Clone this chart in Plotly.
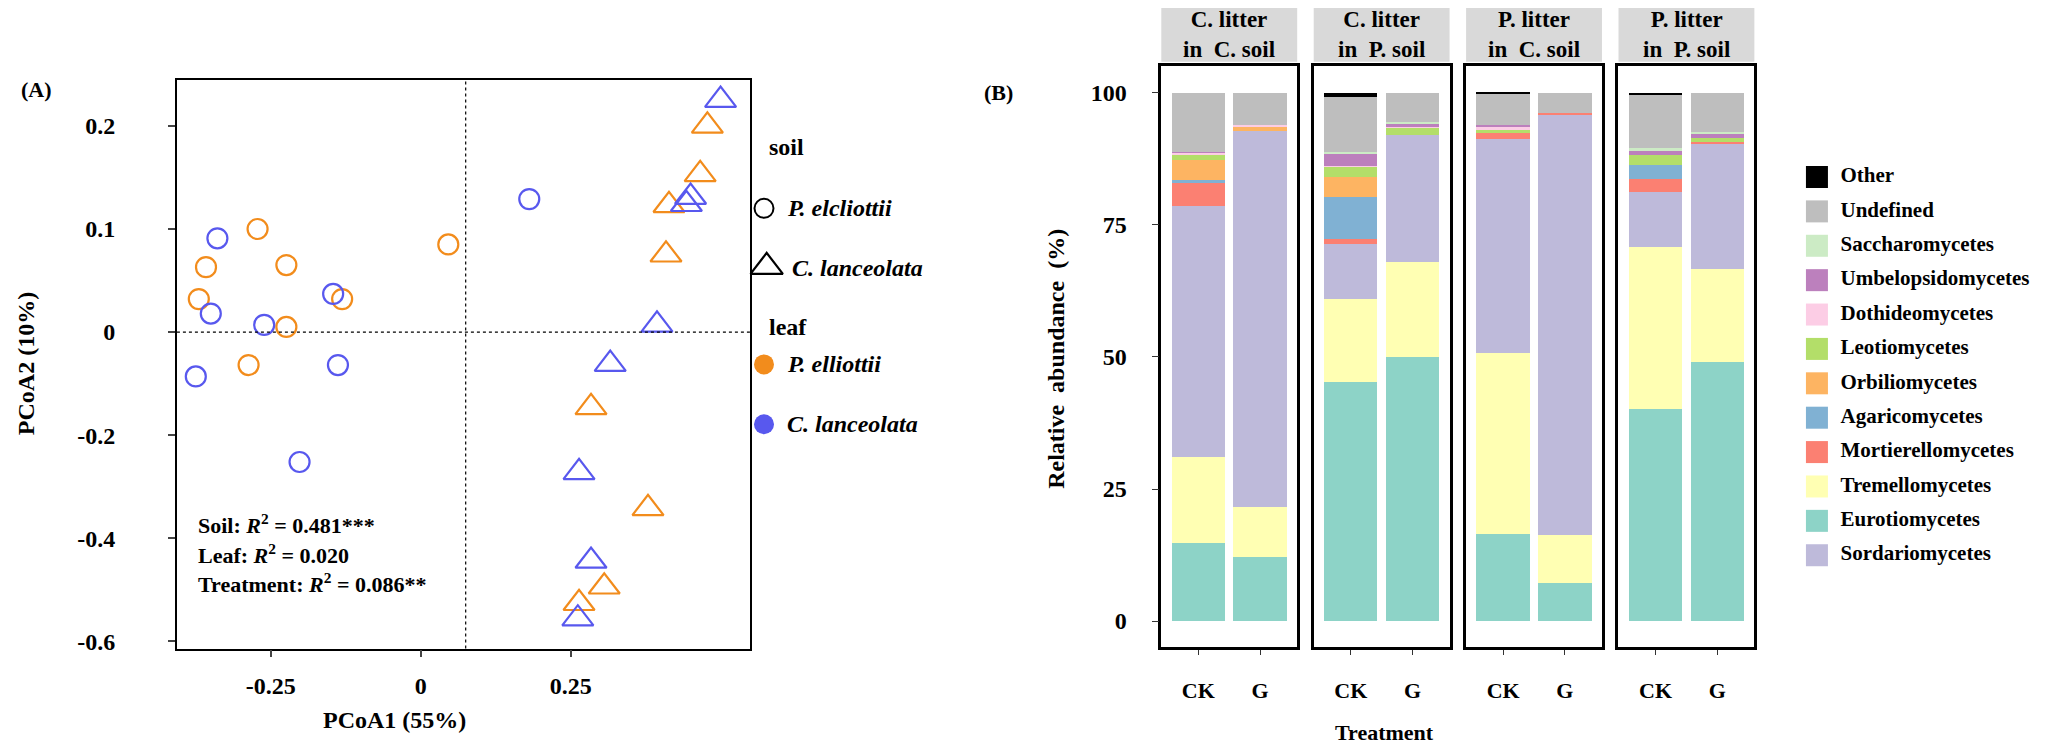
import plotly.graph_objects as go

FONT = "Liberation Serif"
W, H = 2065, 747

# ---------------- Panel A data (PCoA) ----------------
# y values are in plotted-axis units; axis tick texts below relabel them as in the source figure
circ_pe_x = [-0.272, -0.358, -0.224, -0.370, -0.131, -0.224, -0.287, 0.046]
circ_pe_y = [0.100, 0.063, 0.065, 0.032, 0.032, 0.005, -0.032, 0.085]
circ_cl_x = [-0.339, -0.350, -0.261, -0.146, -0.138, -0.375, -0.202, 0.181]
circ_cl_y = [0.091, 0.018, 0.007, 0.037, -0.032, -0.043, -0.126, 0.129]
tri_pe_x = [0.478, 0.466, 0.414, 0.409, 0.284, 0.379, 0.306, 0.264]
tri_pe_y = [0.200, 0.153, 0.123, 0.075, -0.073, -0.171, -0.247, -0.263]
tri_cl_x = [0.500, 0.443, 0.450, 0.394, 0.316, 0.264, 0.284, 0.262]
tri_cl_y = [0.225, 0.124, 0.131, 0.007, -0.031, -0.136, -0.222, -0.278]

a_xtick_vals = [-0.25, 0, 0.25]
a_xtick_text = ["-0.25", "0", "0.25"]
a_ytick_vals = [0.2, 0.1, 0, -0.1, -0.2, -0.3]
a_ytick_text = ["0.2", "0.1", "0", "-0.2", "-0.4", "-0.6"]
a_stats = ["Soil: <i>R</i><sup>2</sup> = 0.481***",
           "Leaf: <i>R</i><sup>2</sup> = 0.020",
           "Treatment: <i>R</i><sup>2</sup> = 0.086**"]

ORANGE = "#F28C1C"
BLUE = "#5858EE"

# ---------------- Panel B data (relative abundance, %) ----------------
facets = ["C. litter<br>in  C. soil", "C. litter<br>in  P. soil",
          "P. litter<br>in  C. soil", "P. litter<br>in  P. soil"]
treatments = ["CK", "G"]
# stacking order bottom -> top
classes = ["Eurotiomycetes", "Tremellomycetes", "Sordariomycetes", "Mortierellomycetes",
           "Agaricomycetes", "Orbiliomycetes", "Leotiomycetes", "Dothideomycetes",
           "Umbelopsidomycetes", "Saccharomycetes", "Undefined", "Other"]
colors = {"Eurotiomycetes": "#8DD3C7", "Tremellomycetes": "#FFFFB3",
          "Sordariomycetes": "#BEBADA", "Mortierellomycetes": "#FB8072",
          "Agaricomycetes": "#80B1D3", "Orbiliomycetes": "#FDB462",
          "Leotiomycetes": "#B3DE69", "Dothideomycetes": "#FCCDE5",
          "Umbelopsidomycetes": "#BC80BD", "Saccharomycetes": "#CCEBC5",
          "Undefined": "#BEBEBE", "Other": "#000000"}
legend_order = ["Other", "Undefined", "Saccharomycetes", "Umbelopsidomycetes",
                "Dothideomycetes", "Leotiomycetes", "Orbiliomycetes", "Agaricomycetes",
                "Mortierellomycetes", "Tremellomycetes", "Eurotiomycetes", "Sordariomycetes"]
# values per facet: [CK, G]
Eurotiomycetes     = [[14.8, 12.2], [45.3, 50.0], [16.5, 7.2], [40.2, 49.1]]
Tremellomycetes    = [[16.3, 9.4], [15.6, 18.0], [34.2, 9.1], [30.6, 17.6]]
Sordariomycetes    = [[47.4, 71.2], [10.5, 24.1], [40.6, 79.5], [10.5, 23.6]]
Mortierellomycetes = [[4.5, 0.0], [1.0, 0.0], [1.1, 0.4], [2.4, 0.3]]
Agaricomycetes     = [[0.5, 0.0], [7.9, 0.0], [0.0, 0.0], [2.7, 0.0]]
Orbiliomycetes     = [[3.8, 0.8], [3.8, 0.0], [0.0, 0.0], [0.0, 0.0]]
Leotiomycetes      = [[1.0, 0.0], [1.8, 1.3], [0.5, 0.0], [1.9, 0.8]]
Dothideomycetes    = [[0.3, 0.4], [0.2, 0.2], [0.7, 0.0], [0.0, 0.0]]
Umbelopsidomycetes = [[0.2, 0.0], [2.3, 0.6], [0.4, 0.0], [0.6, 0.8]]
Saccharomycetes    = [[0.0, 0.0], [0.4, 0.2], [0.0, 0.0], [0.7, 0.4]]
Undefined          = [[11.2, 6.0], [10.4, 5.6], [5.8, 3.8], [10.0, 7.4]]
Other              = [[0.0, 0.0], [0.8, 0.0], [0.2, 0.0], [0.4, 0.0]]
values = {"Eurotiomycetes": Eurotiomycetes, "Tremellomycetes": Tremellomycetes,
          "Sordariomycetes": Sordariomycetes, "Mortierellomycetes": Mortierellomycetes,
          "Agaricomycetes": Agaricomycetes, "Orbiliomycetes": Orbiliomycetes,
          "Leotiomycetes": Leotiomycetes, "Dothideomycetes": Dothideomycetes,
          "Umbelopsidomycetes": Umbelopsidomycetes, "Saccharomycetes": Saccharomycetes,
          "Undefined": Undefined, "Other": Other}
b_ytick_vals = [0, 25, 50, 75, 100]

# ---------------- layout geometry (paper fractions) ----------------
A_X = [0.0818, 0.3593]
A_Y = [0.1355, 0.9035]
_dx = -0.0038
FACET_X = [[0.5623 + _dx, 0.6281 + _dx], [0.6361 + _dx, 0.7019 + _dx],
           [0.7099 + _dx, 0.7757 + _dx], [0.7837 + _dx, 0.8495 + _dx]]
B_Y = [0.137, 0.9212]
STRIP_Y = [0.9275, 1.0]

fig = go.Figure()

def bfont(size, color="black"):
    return dict(family=FONT, size=size, color=color, weight="bold")

# ---- panel A scatter ----
groups = [(circ_pe_x, circ_pe_y, "circle-open", ORANGE, 20),
          (circ_cl_x, circ_cl_y, "circle-open", BLUE, 20),
          (tri_pe_x, tri_pe_y, "triangle-up-open", ORANGE, 27),
          (tri_cl_x, tri_cl_y, "triangle-up-open", BLUE, 27)]
for gx, gy, sym, col, sz in groups:
    fig.add_trace(go.Scatter(x=gx, y=gy, mode="markers", xaxis="x", yaxis="y",
                             marker=dict(symbol=sym, size=sz, color=col,
                                         line=dict(color=col, width=2.2)),
                             showlegend=False, cliponaxis=False))

# ---- panel B stacked bars ----
for fi in range(4):
    ax = str(fi + 2)
    for cls in classes:
        fig.add_trace(go.Bar(x=treatments, y=values[cls][fi], xaxis="x" + ax, yaxis="y" + ax,
                             marker=dict(color=colors[cls], line=dict(width=0)),
                             width=0.865, name=cls, showlegend=False))

# ---- overlay axis for hand-placed legends ----
LAX = 0.3661   # panel A legend symbol column
LAT = 0.3763   # panel A legend text column
fig.add_trace(go.Scatter(x=[LAX], y=[0.7296], mode="markers", xaxis="x6", yaxis="y6",
                         marker=dict(symbol="circle-open", size=19, color="black",
                                     line=dict(color="black", width=2)), showlegend=False))
fig.add_trace(go.Scatter(x=[LAX + 0.0013], y=[0.6506], mode="markers", xaxis="x6", yaxis="y6",
                         marker=dict(symbol="triangle-up-open", size=28, color="black",
                                     line=dict(color="black", width=2.2)), showlegend=False))
fig.add_trace(go.Scatter(x=[LAX, LAX], y=[0.519, 0.4383], mode="markers",
                         xaxis="x6", yaxis="y6",
                         marker=dict(symbol="circle", size=20, color=[ORANGE, BLUE]),
                         showlegend=False))
# panel B legend
leg_y = [1 - (130 + i * 26.45) / 570 for i in range(len(legend_order))]
fig.add_trace(go.Scatter(x=[0.8760] * len(legend_order), y=leg_y, mode="markers",
                         xaxis="x6", yaxis="y6",
                         marker=dict(symbol="square", size=22,
                                     color=[colors[c] for c in legend_order]),
                         showlegend=False))
fig.add_trace(go.Scatter(x=[0.8874] * len(legend_order), y=leg_y, mode="text",
                         xaxis="x6", yaxis="y6", text=legend_order,
                         textposition="middle right", textfont=bfont(21),
                         showlegend=False))

layout = dict(
    width=W, height=H, paper_bgcolor="white", plot_bgcolor="rgba(0,0,0,0)",
    margin=dict(l=0, r=0, t=0, b=0), showlegend=False, barmode="stack",
    font=dict(family=FONT, color="black"),
    xaxis=dict(domain=A_X, range=[-0.4065, 0.549], tickvals=a_xtick_vals,
               ticktext=a_xtick_text, showline=True, mirror=True, linecolor="black",
               linewidth=1.5, ticks="outside", ticklen=7, tickwidth=1.5, showgrid=False,
               zeroline=False, tickfont=bfont(24), ticklabelstandoff=8, anchor="y"),
    yaxis=dict(domain=A_Y, range=[-0.307, 0.245], tickvals=a_ytick_vals,
               ticktext=a_ytick_text, showline=True, mirror=True, linecolor="black",
               linewidth=1.5, ticks="outside", ticklen=7, tickwidth=1.5, showgrid=False,
               zeroline=False, tickfont=bfont(24), ticklabelstandoff=48, anchor="x"),
    xaxis6=dict(domain=[0, 1], range=[0, 1], visible=False, fixedrange=True, anchor="y6"),
    yaxis6=dict(domain=[0, 1], range=[0, 1], visible=False, fixedrange=True, anchor="x6"),
)
for fi in range(4):
    ax = str(fi + 2)
    layout["xaxis" + ax] = dict(domain=FACET_X[fi], range=[-0.6, 1.6], type="category",
                                categoryorder="array", categoryarray=treatments,
                                showline=True, mirror=True, linecolor="black", linewidth=2.5,
                                ticks="outside", ticklen=5, tickwidth=1, tickcolor="#333333",
                                showgrid=False, zeroline=False, tickfont=bfont(22),
                                ticklabelstandoff=16, anchor="y" + ax)
    layout["yaxis" + ax] = dict(domain=B_Y, range=[-5, 105], tickvals=b_ytick_vals,
                                showline=True, mirror=True, linecolor="black", linewidth=2.5,
                                ticks="outside" if fi == 0 else "", ticklen=7, tickwidth=1,
                                tickcolor="#333333", showticklabels=(fi == 0),
                                showgrid=False, zeroline=False, tickfont=bfont(24),
                                ticklabelstandoff=20, anchor="x" + ax)
fig.update_layout(**layout)

shapes = [
    dict(type="line", xref="x", yref="y domain", x0=0.075, x1=0.075, y0=0, y1=1,
         line=dict(color="black", width=1.2, dash="dot")),
    dict(type="line", xref="x domain", yref="y", x0=0, x1=1, y0=0, y1=0,
         line=dict(color="black", width=1.2, dash="dot")),
]
annotations = []
for fi, (x0, x1) in enumerate(FACET_X):
    shapes.append(dict(type="rect", xref="paper", yref="paper", x0=x0, x1=x1,
                       y0=STRIP_Y[0], y1=STRIP_Y[1], fillcolor="#D9D9D9",
                       line=dict(width=0), layer="below"))
    annotations.append(dict(xref="paper", yref="paper", x=(x0 + x1) / 2,
                            y=(STRIP_Y[0] + STRIP_Y[1]) / 2, text=facets[fi],
                            showarrow=False, font=bfont(23), xanchor="center",
                            yanchor="middle"))

for i, t in enumerate(a_stats):
    annotations.append(dict(xref="paper", yref="paper", x=0.0910, y=0.304 - i * 0.0402,
                            text=t, showarrow=False, xanchor="left", yanchor="middle",
                            font=bfont(22)))

annotations += [
    dict(xref="paper", yref="paper", x=0.014, y=0.890, text="(A)", showarrow=False,
         font=bfont(22), xanchor="center", yanchor="middle"),
    dict(xref="paper", yref="paper", x=0.4796, y=0.886, text="(B)", showarrow=False,
         font=bfont(22), xanchor="center", yanchor="middle"),
    dict(xref="paper", yref="paper", x=0.1873, y=0.0388, text="PCoA1 (55%)",
         showarrow=False, font=bfont(24), xanchor="center", yanchor="middle"),
    dict(xref="paper", yref="paper", x=0.0012, y=0.52, text="PCoA2 (10%)",
         showarrow=False, font=bfont(24), textangle=-90, xanchor="left",
         yanchor="middle"),
    dict(xref="paper", yref="paper", x=0.5078, y=0.526, text="Relative  abundance  (%)",
         showarrow=False, font=bfont(24), textangle=-90, xanchor="center",
         yanchor="middle"),
    dict(xref="paper", yref="paper", x=0.6665, y=0.022, text="Treatment",
         showarrow=False, font=bfont(22), xanchor="center", yanchor="middle"),
    dict(xref="paper", yref="paper", x=0.3675, y=0.8120, text="soil", showarrow=False,
         font=bfont(24), xanchor="left", yanchor="middle"),
    dict(xref="paper", yref="paper", x=LAT, y=0.7296, text="<i>P. elcliottii</i>",
         showarrow=False, font=bfont(24), xanchor="left", yanchor="middle"),
    dict(xref="paper", yref="paper", x=LAT + 0.0026, y=0.6490, text="<i>C. lanceolata</i>",
         showarrow=False, font=bfont(24), xanchor="left", yanchor="middle"),
    dict(xref="paper", yref="paper", x=0.3675, y=0.5699, text="leaf", showarrow=False,
         font=bfont(24), xanchor="left", yanchor="middle"),
    dict(xref="paper", yref="paper", x=LAT, y=0.519, text="<i>P. elliottii</i>",
         showarrow=False, font=bfont(24), xanchor="left", yanchor="middle"),
    dict(xref="paper", yref="paper", x=LAT, y=0.4383, text="<i>C. lanceolata</i>",
         showarrow=False, font=bfont(24), xanchor="left", yanchor="middle"),
]
fig.update_layout(shapes=shapes, annotations=annotations)

fig.write_html("out.html")
